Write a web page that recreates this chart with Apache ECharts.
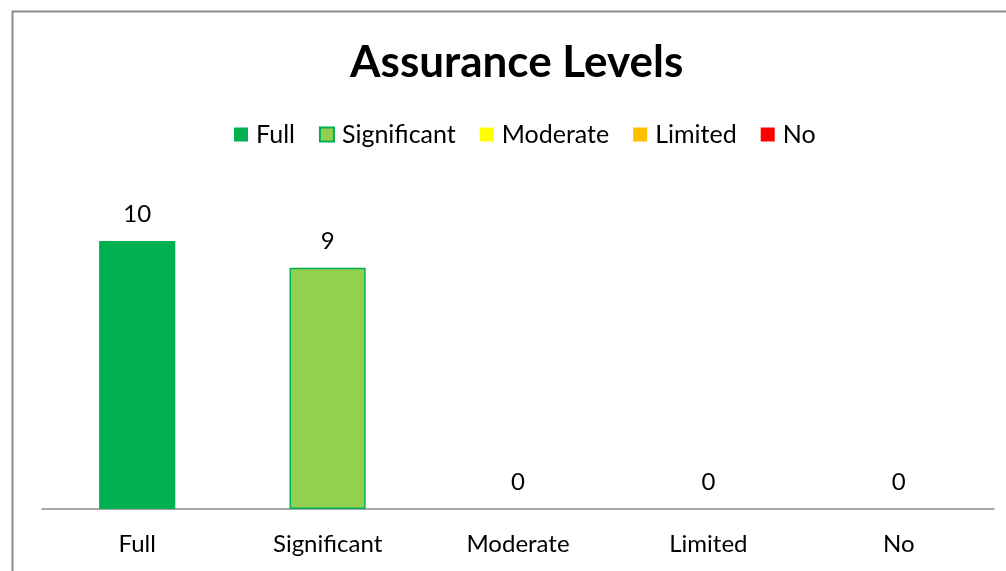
<!DOCTYPE html>
<html><head><meta charset="utf-8">
<script src="https://cdn.jsdelivr.net/npm/echarts@6/dist/echarts.min.js"></script>
<style>html,body{margin:0;padding:0;background:#fff}#c{width:1006px;height:571px}</style>
</head><body><div id="c"></div>
<script>
var categories = ['Full', 'Significant', 'Moderate', 'Limited', 'No'];
var values = [10, 9, 0, 0, 0];
var colors = ['#00B050', '#92D050', '#FFFF00', '#FFC000', '#FF0000'];
var borders = [null, '#00B050', null, null, null];
var titleText = 'Assurance Levels';

var FONT = 'Lato';
var series = categories.map(function (name, i) {
  var data = categories.map(function (c, j) { return j === i ? values[j] : '-'; });
  return {
    name: name,
    type: 'bar',
    stack: 'all',
    barWidth: '40%',
    data: data,
    itemStyle: {
      color: colors[i],
      borderColor: borders[i] || colors[i],
      borderWidth: borders[i] ? 1.5 : 0
    },
    label: {
      show: true, position: 'top', distance: 15,
      color: '#000', fontFamily: FONT, fontSize: 24, lineHeight: 24
    }
  };
});

var chart = echarts.init(document.getElementById('c'), null, {renderer: 'canvas'});
chart.setOption({
  animation: false,
  backgroundColor: '#fff',
  graphic: [{
    type: 'rect', z: -1, silent: true,
    shape: {x: 12.5, y: 11.5, width: 1100, height: 700},
    style: {fill: 'none', stroke: '#8c8c8c', lineWidth: 2}
  }],
  title: {
    text: titleText, left: 350, top: 41, padding: 0,
    textStyle: {fontFamily: FONT, fontWeight: 'bold', fontSize: 44, color: '#000'}
  },
  legend: {
    top: 117, left: 229,
    itemWidth: 14, itemHeight: 14, itemGap: 24,
    icon: 'rect',
    textStyle: {fontFamily: FONT, fontSize: 25, color: '#000', padding: [0, 0, 0, 3]},
    data: categories
  },
  grid: {left: 42, right: 12, top: 187.4, bottom: 62},
  xAxis: {
    type: 'category', data: categories,
    axisLine: {lineStyle: {color: '#8c8c8c', width: 1.5}},
    axisTick: {show: false},
    axisLabel: {margin: 23, color: '#000', fontFamily: FONT, fontSize: 24}
  },
  yAxis: {
    type: 'value', min: 0, max: 12, show: false,
    splitLine: {show: false}
  },
  series: series
});
</script></body></html>
